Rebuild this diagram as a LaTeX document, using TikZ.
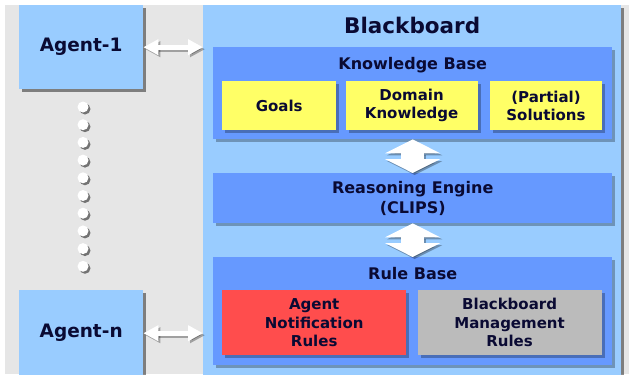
\documentclass[tikz,border=0pt]{standalone}
\usepackage{fontspec}
\setmainfont{DejaVu Sans}
\usetikzlibrary{arrows.meta,calc,positioning,shadows}
\definecolor{bggray}{HTML}{E6E6E6}
\definecolor{paleblue}{HTML}{99CCFF}
\definecolor{midblue}{HTML}{6699FF}
\definecolor{kbyellow}{HTML}{FFFF66}
\definecolor{rulered}{HTML}{FF4D4D}
\definecolor{rulegray}{HTML}{BBBBBB}
\definecolor{inknavy}{HTML}{0A0A33}
\tikzset{
  panel/.style      = {anchor=north west, inner sep=0pt, text=inknavy, align=center},
  farshadow/.style  = {drop shadow={shadow xshift=3bp, shadow yshift=-3bp, fill=black, opacity=0.45}},
  nearshadow/.style = {drop shadow={shadow xshift=3bp, shadow yshift=-3bp, fill=black, opacity=0.28}},
  agent/.style      = {panel, fill=paleblue, farshadow, minimum width=124bp,
                       font=\fontsize{18.5bp}{22bp}\selectfont\bfseries},
  layer/.style      = {panel, fill=midblue, nearshadow, minimum width=399bp},
  layertitle/.style = {anchor=base, text=inknavy, inner sep=0pt,
                       font=\fontsize{16bp}{20bp}\selectfont\bfseries},
  item/.style       = {panel, nearshadow, minimum height=49bp,
                       font=\fontsize{15bp}{18bp}\selectfont\bfseries},
  rule/.style       = {item, minimum width=184bp, minimum height=65bp,
                       font=\fontsize{15bp}{18.5bp}\selectfont\bfseries},
  link/.style       = {{Triangle[width=15bp,length=15bp]}-{Triangle[width=15bp,length=15bp]},
                       line width=5bp, white},
  flow/.style       = {{Triangle[width=55bp,length=14bp]}-{Triangle[width=55bp,length=14bp]},
                       line width=23bp, white},
  castshadow/.style = {draw=black, opacity=0.3, transform canvas={xshift=2bp,yshift=-2bp}},
}

\begin{document}
\begin{tikzpicture}[x=1bp,y=-1bp]
  \useasboundingbox (0,0) rectangle (629,374);
  \clip (0,0) rectangle (629,374);
  \fill[white] (0,0) rectangle (629,374);
  \fill[bggray] (5,5) rectangle (629,374);

  % ---- blackboard ---------------------------------------------------------
  \node[panel, fill=paleblue, farshadow, minimum width=418bp, minimum height=380bp]
      (bb) at (203,5) {};
  \node[anchor=base, text=inknavy, inner sep=0pt,
        font=\fontsize{21.5bp}{24bp}\selectfont\bfseries]
      (bbtitle) at ($(bb.north)+(0,28)$) {Blackboard};

  % ---- agents -------------------------------------------------------------
  \node[agent, minimum height=84bp] (agent1) at (19,5) {Agent-1};
  \node[agent, minimum height=86bp] (agentn) at (19,290) {Agent-n};
  \foreach \i in {0,...,9} {
    \fill[black!55] (85,109+17.7*\i) circle (5.5bp);
    \fill[white] (83,107+17.7*\i) circle (5.5bp);
  }

  % ---- knowledge base -----------------------------------------------------
  \node[layer, minimum height=92bp] (kb) at (213,47) {};
  \node[layertitle] (kbtitle) at ($(kb.north)+(0,22.5)$) {Knowledge Base};
  \node[item, fill=kbyellow, minimum width=114bp] (goals) at (222,81) {Goals};
  \node[item, fill=kbyellow, minimum width=132bp, anchor=west, right=9bp of goals]
      (domain) {Domain\\Knowledge};
  \node[item, fill=kbyellow, minimum width=112bp, anchor=west, right=12bp of domain]
      (solutions) {(Partial)\\Solutions};

  % ---- reasoning engine ---------------------------------------------------
  \node[layer, minimum height=50bp, font=\fontsize{16bp}{20bp}\selectfont\bfseries]
      (engine) at (213,173) {Reasoning Engine\\(CLIPS)};

  % ---- rule base ----------------------------------------------------------
  \node[layer, minimum height=108bp] (rb) at (213,257) {};
  \node[layertitle] (rbtitle) at ($(rb.north)+(0,22)$) {Rule Base};
  \node[rule, fill=rulered] (notify) at (222,290) {Agent\\Notification\\Rules};
  \node[rule, fill=rulegray, right=11bp of notify]
      (manage) {Blackboard\\Management\\Rules};

  % ---- connectors ---------------------------------------------------------
  \draw[link, castshadow] (agent1.east) -- (agent1.east -| bb.west);
  \draw[link] (agent1.east) -- (agent1.east -| bb.west);
  \draw[link, castshadow] (agentn.east) -- (agentn.east -| bb.west);
  \draw[link] (agentn.east) -- (agentn.east -| bb.west);
  \draw[flow, castshadow] (kb.south) -- (engine.north);
  \draw[flow] (kb.south) -- (engine.north);
  \draw[flow, castshadow] (engine.south) -- (rb.north);
  \draw[flow] (engine.south) -- (rb.north);
\end{tikzpicture}
\end{document}
